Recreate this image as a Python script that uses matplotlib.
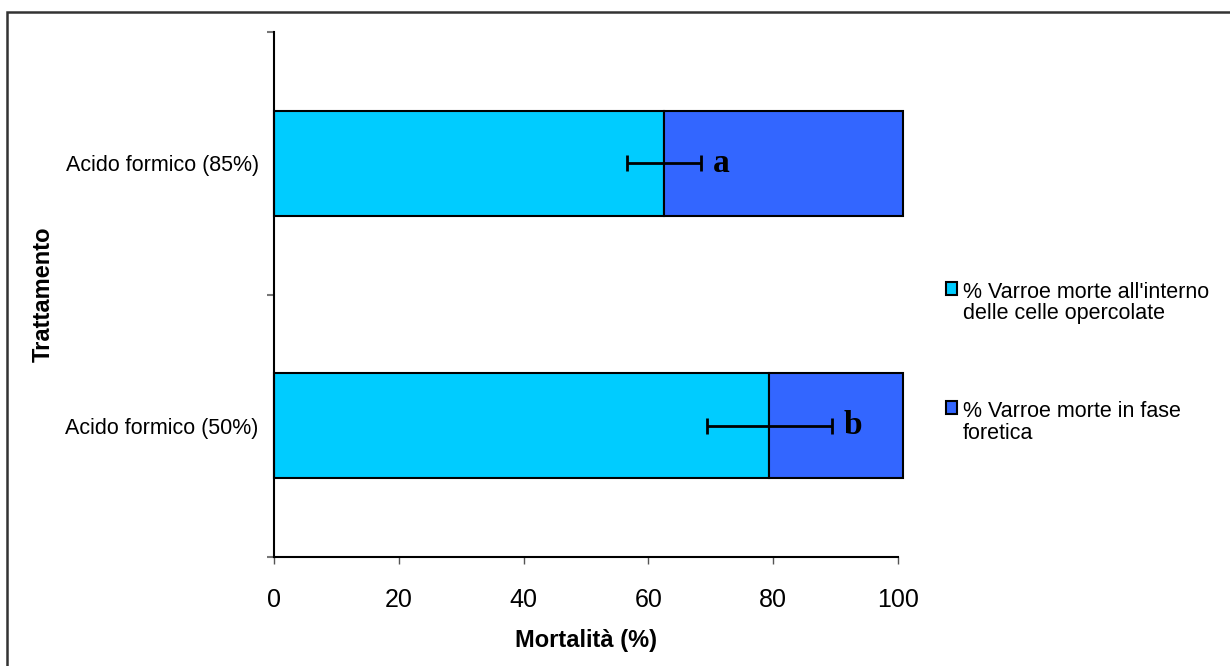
import matplotlib
matplotlib.use("Agg")
import matplotlib.pyplot as plt
from matplotlib.patches import Rectangle

# ---- data ----
categories = ["Acido formico (50%)", "Acido formico (85%)"]
inside_cells = [79.4, 62.5]          # % Varroe morte all'interno delle celle opercolate
phoretic = [21.4, 38.3]              # % Varroe morte in fase foretica
inside_err = [10.0, 6.0]
letters = ["b", "a"]
x_ticks = [0, 20, 40, 60, 80, 100]
series_labels = ["% Varroe morte all'interno\ndelle celle opercolate",
                 "% Varroe morte in fase\nforetica"]

plt.rcParams['font.family'] = ['Liberation Sans', 'DejaVu Sans']

fig = plt.figure(figsize=(12.3, 6.66), dpi=100)
ax = fig.add_axes([274/1230, 1-557/666, 624/1230, 525/666])

ypos = [0.5, 1.5]
h = 0.4
b1 = ax.barh(ypos, inside_cells, height=h, color="#00CCFF", edgecolor="black",
             linewidth=1.5, label=series_labels[0], clip_on=False, zorder=2)
b2 = ax.barh(ypos, phoretic, left=inside_cells, height=h, color="#3366FF",
             edgecolor="black", linewidth=1.5, label=series_labels[1],
             clip_on=False, zorder=2)
ax.errorbar(inside_cells, ypos, xerr=inside_err, fmt="none", ecolor="black",
            elinewidth=2, capsize=5.8, capthick=2, zorder=3)
for y, v, e, l in zip(ypos, inside_cells, inside_err, letters):
    ax.text(v + e + 1.8, y, l, ha="left", va="center", fontsize=24,
            fontweight="bold", family=["Liberation Serif", "DejaVu Serif"])

ax.set_xlim(0, 100)
ax.set_ylim(0, 2)
ax.set_xticks(x_ticks)
ax.set_xticklabels([str(t) for t in x_ticks], fontsize=18)
ax.tick_params(axis="x", direction="out", length=5, width=1, color="#555555", pad=17)
ax.set_yticks([0, 1, 2])
ax.set_yticklabels([])
ax.tick_params(axis="y", which="major", direction="out", length=5, width=1.5, color="#777777")
ax.set_yticks(ypos, minor=True)
ax.set_yticklabels(categories, minor=True, fontsize=15.5)
ax.tick_params(axis="y", which="minor", length=0, pad=11)

for s in ["top", "right"]:
    ax.spines[s].set_visible(False)
ax.spines["left"].set_linewidth(1.5)
ax.spines["bottom"].set_linewidth(1.5)

ax.set_xlabel("Mortalità (%)", fontsize=17, fontweight="bold")
ax.xaxis.set_label_coords(0.5, -0.137)
ax.set_ylabel("Trattamento", fontsize=17, fontweight="bold")
ax.yaxis.set_label_coords(-0.352, 0.5)

leg = fig.legend(handles=[b1, b2], loc="upper left",
                 bbox_to_anchor=(937/1230, 1-273/666), frameon=False,
                 fontsize=15.5, handlelength=0.55, handleheight=0.55,
                 handletextpad=0.25, labelspacing=3.6, borderaxespad=0)
for t in leg.get_texts():
    t.set_linespacing(1.02)
for hp in leg._legend_handle_box.get_children()[0].get_children():
    hp.align = "top"
for p in leg.get_patches():
    p.set_linewidth(1.5)

# outer chart border
fig.patches.append(Rectangle((7/1230, -0.1), 1.2, 1-12/666+0.1,
                             transform=fig.transFigure, fill=False,
                             edgecolor="#333333", linewidth=1.8, clip_on=False))

fig.savefig("out.png", dpi=100)
